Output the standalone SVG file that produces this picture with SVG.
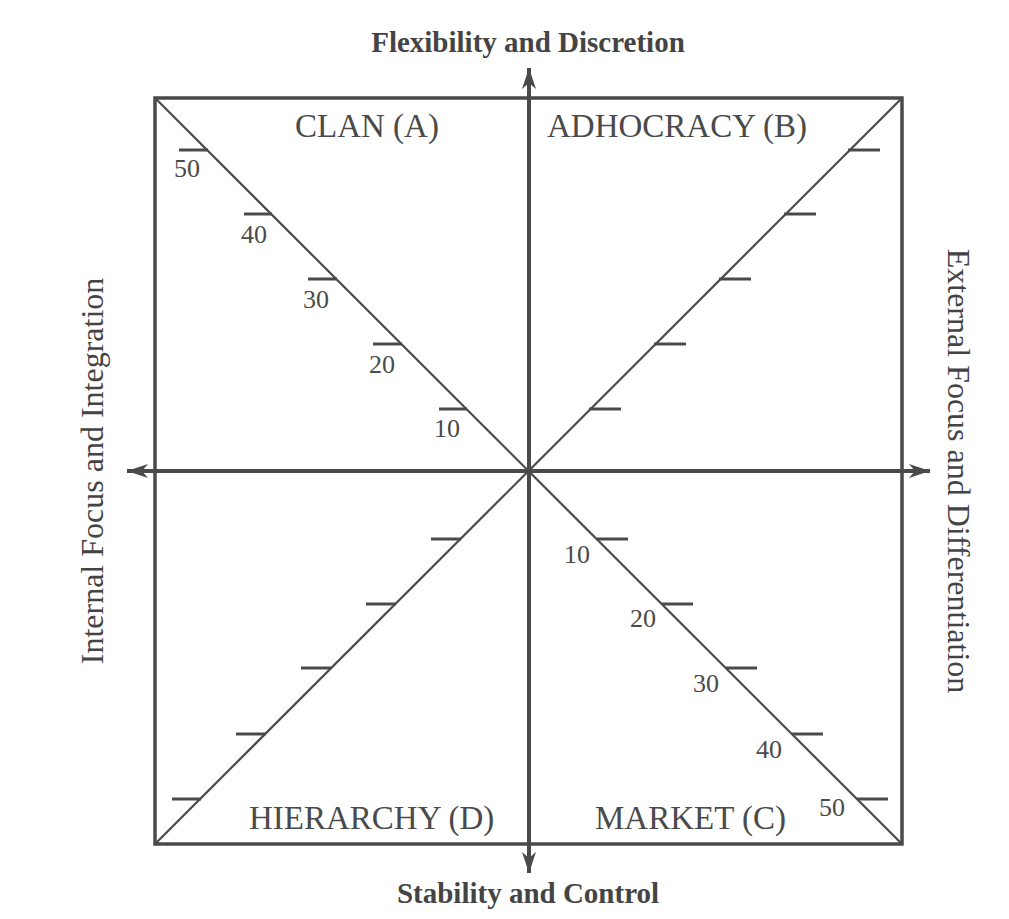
<svg xmlns="http://www.w3.org/2000/svg" width="1009" height="919" viewBox="0 0 1009 919">
  <defs>
    <style>
      .ln { stroke: #4a4a4a; fill: none; }
      .box { stroke-width: 3.5; }
      .diag { stroke-width: 2.2; }
      .axis { stroke-width: 4; }
      .tick { stroke-width: 3; }
      .quad { font-family: "Liberation Serif", "DejaVu Serif", serif; font-size: 33px; fill: #4a4a4a; }
      .num { font-family: "Liberation Serif", "DejaVu Serif", serif; font-size: 26px; fill: #4a4a4a; }
      .title { font-family: "Liberation Serif", "DejaVu Serif", serif; font-size: 29px; font-weight: bold; fill: #444; text-anchor: middle; }
      .side { font-family: "Liberation Serif", "DejaVu Serif", serif; font-size: 32px; fill: #444; text-anchor: middle; }
    </style>
    <marker id="ah" markerUnits="userSpaceOnUse" markerWidth="24" markerHeight="18" viewBox="-22 -9 24 18" refX="0" refY="0" orient="auto">
      <path d="M0,0 L-21,-7 L-15,0 L-21,7 Z" fill="#4a4a4a"/>
    </marker>
  </defs>
  <rect width="1009" height="919" fill="#ffffff"/>

  <g id="frame">
    <rect class="ln box" x="155" y="98" width="747" height="746"/>
  </g>

  <g id="diagonals">
    <line class="ln diag" x1="155" y1="98" x2="902" y2="844"/>
    <line class="ln diag" x1="155" y1="844" x2="902" y2="98"/>
  </g>

  <g id="connectors">
    <line class="ln axis" x1="529" y1="844" x2="529" y2="68" marker-end="url(#ah)"/>
    <line class="ln axis" x1="529" y1="98" x2="529" y2="873" marker-end="url(#ah)"/>
    <line class="ln axis" x1="902" y1="471" x2="127" y2="471" marker-end="url(#ah)"/>
    <line class="ln axis" x1="155" y1="471" x2="930" y2="471" marker-end="url(#ah)"/>
  </g>

  <g id="ticks">
    <!-- top-left (clan) -->
    <line class="ln tick" x1="179" y1="150" x2="208" y2="150"/>
    <line class="ln tick" x1="244" y1="214" x2="272" y2="214"/>
    <line class="ln tick" x1="308" y1="279" x2="337" y2="279"/>
    <line class="ln tick" x1="373" y1="344" x2="402" y2="344"/>
    <line class="ln tick" x1="439" y1="409" x2="467" y2="409"/>
    <!-- top-right (adhocracy) -->
    <line class="ln tick" x1="848" y1="150" x2="880" y2="150"/>
    <line class="ln tick" x1="784" y1="214" x2="816" y2="214"/>
    <line class="ln tick" x1="719" y1="279" x2="751" y2="279"/>
    <line class="ln tick" x1="654" y1="344" x2="686" y2="344"/>
    <line class="ln tick" x1="589" y1="409" x2="621" y2="409"/>
    <!-- bottom-left (hierarchy) -->
    <line class="ln tick" x1="431" y1="539" x2="461" y2="539"/>
    <line class="ln tick" x1="366" y1="604" x2="396" y2="604"/>
    <line class="ln tick" x1="301" y1="668" x2="331" y2="668"/>
    <line class="ln tick" x1="236" y1="734" x2="266" y2="734"/>
    <line class="ln tick" x1="172" y1="799" x2="201" y2="799"/>
    <!-- bottom-right (market) -->
    <line class="ln tick" x1="597" y1="539" x2="628" y2="539"/>
    <line class="ln tick" x1="662" y1="604" x2="693" y2="604"/>
    <line class="ln tick" x1="726" y1="668" x2="757" y2="668"/>
    <line class="ln tick" x1="792" y1="734" x2="823" y2="734"/>
    <line class="ln tick" x1="857" y1="799" x2="888" y2="799"/>
  </g>

  <g id="clan">
    <text class="quad" x="295" y="137">CLAN (A)</text>
    <text class="num" x="174" y="177">50</text>
    <text class="num" x="241" y="243">40</text>
    <text class="num" x="303" y="308">30</text>
    <text class="num" x="369" y="373">20</text>
    <text class="num" x="434" y="437">10</text>
  </g>

  <g id="adhocracy">
    <text class="quad" x="547" y="137">ADHOCRACY (B)</text>
  </g>

  <g id="hierarchy">
    <text class="quad" x="249" y="829">HIERARCHY (D)</text>
  </g>

  <g id="market">
    <text class="quad" x="595" y="829">MARKET (C)</text>
    <text class="num" x="564" y="563">10</text>
    <text class="num" x="630" y="627">20</text>
    <text class="num" x="693" y="692">30</text>
    <text class="num" x="756" y="758">40</text>
    <text class="num" x="819" y="816">50</text>
  </g>

  <g id="axis-labels">
    <text class="title" x="528" y="52">Flexibility and Discretion</text>
    <text class="title" x="528" y="903">Stability and Control</text>
    <text class="side" transform="translate(103,471) rotate(-90)" x="0" y="0">Internal Focus and Integration</text>
    <text class="side" transform="translate(948,471) rotate(90)" x="0" y="0">External Focus and Differentiation</text>
  </g>
</svg>
